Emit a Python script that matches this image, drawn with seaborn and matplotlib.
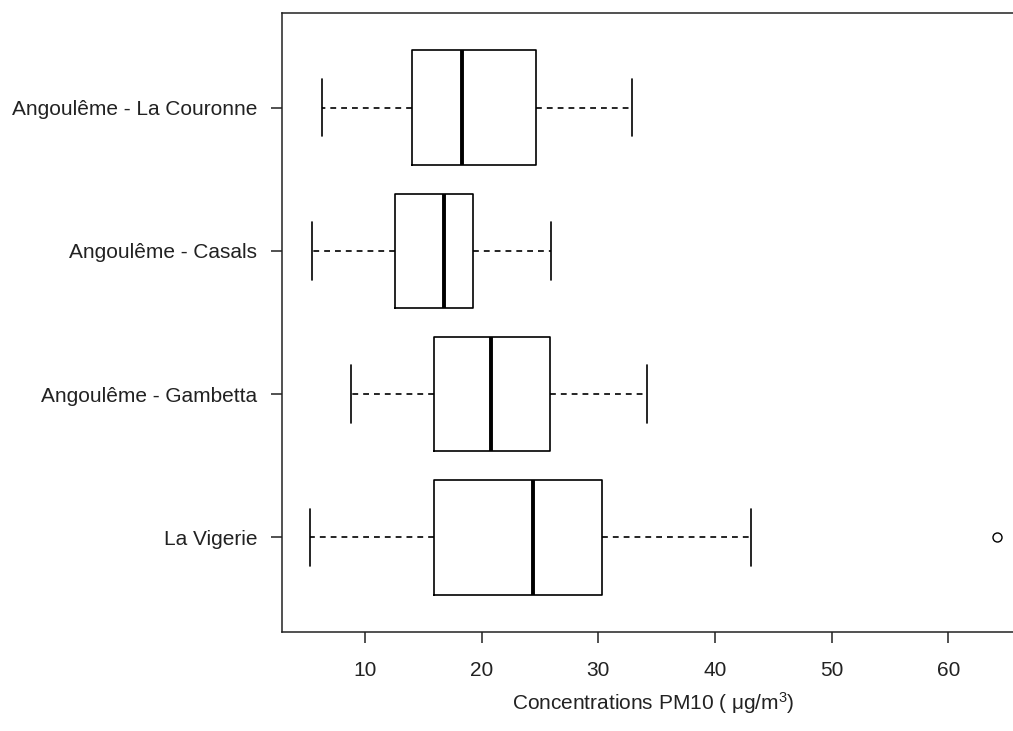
import numpy as np
import seaborn as sns
import matplotlib.pyplot as plt

# five-number summaries (PM10, µg/m3)
stations = ["La Vigerie", "Angoulême - Gambetta", "Angoulême - Casals", "Angoulême - La Couronne"]
whisker_low = [5.26, 8.83, 5.48, 6.29]
q1 = [15.91, 15.91, 12.60, 14.05]
median = [24.43, 20.83, 16.77, 18.31]
q3 = [30.34, 25.86, 19.26, 24.68]
whisker_high = [43.11, 34.17, 25.91, 32.89]
outliers = [[64.2], [], [], []]

sns.set_style("white")
plt.rcParams['font.family'] = ['Liberation Sans', 'DejaVu Sans']
plt.rcParams['mathtext.fontset'] = 'custom'
plt.rcParams['mathtext.rm'] = 'Liberation Sans'
plt.rcParams['mathtext.it'] = 'Liberation Sans:italic'

stats = []
for i, name in enumerate(stations):
    stats.append({
        "label": name,
        "whislo": whisker_low[i],
        "q1": q1[i],
        "med": median[i],
        "q3": q3[i],
        "whishi": whisker_high[i],
        "fliers": np.array(outliers[i]),
    })

fig = plt.figure(figsize=(10.13, 7.31), dpi=100)
# the original image is cropped on the right, so the box runs past the edge
ax = fig.add_axes([282 / 1013, 99 / 731, 743 / 1013, 619 / 731])

ax.bxp(
    stats,
    positions=np.arange(1, len(stations) + 1),
    vert=False,
    widths=0.8,
    capwidths=0.4,
    boxprops=dict(color="black", linewidth=1.2),
    medianprops=dict(color="black", linewidth=2.8, solid_capstyle="butt"),
    whiskerprops=dict(color="black", linewidth=1.2, linestyle=(0, (3.5, 3))),
    capprops=dict(color="black", linewidth=1.2),
    flierprops=dict(marker="o", markerfacecolor="white", markeredgecolor="black",
                    markersize=6.5, markeredgewidth=1.0),
)

ax.set_xlim(2.90, 66.56)
ax.set_ylim(0.34, 4.66)
ax.set_xticks([10, 20, 30, 40, 50, 60])
ax.set_yticks(np.arange(1, len(stations) + 1))
ax.set_yticklabels(stations)
ax.tick_params(axis="both", which="both", length=8, width=1.1, color="#222222",
               labelsize=15, labelcolor="#222222", direction="out")
ax.tick_params(axis="x", pad=13)
ax.tick_params(axis="y", pad=10)
ax.xaxis.set_ticks_position("bottom")
ax.yaxis.set_ticks_position("left")
for sp in ax.spines.values():
    sp.set_visible(True)
    sp.set_color("#222222")
    sp.set_linewidth(1.1)

ax.set_xlabel("Concentrations PM10 ( $\\mathrm{\\mu}$g/m$^3$)", fontsize=15,
              color="#222222", labelpad=7)
ax.set_ylabel("")

fig.savefig("out.png", dpi=100, facecolor="white")
